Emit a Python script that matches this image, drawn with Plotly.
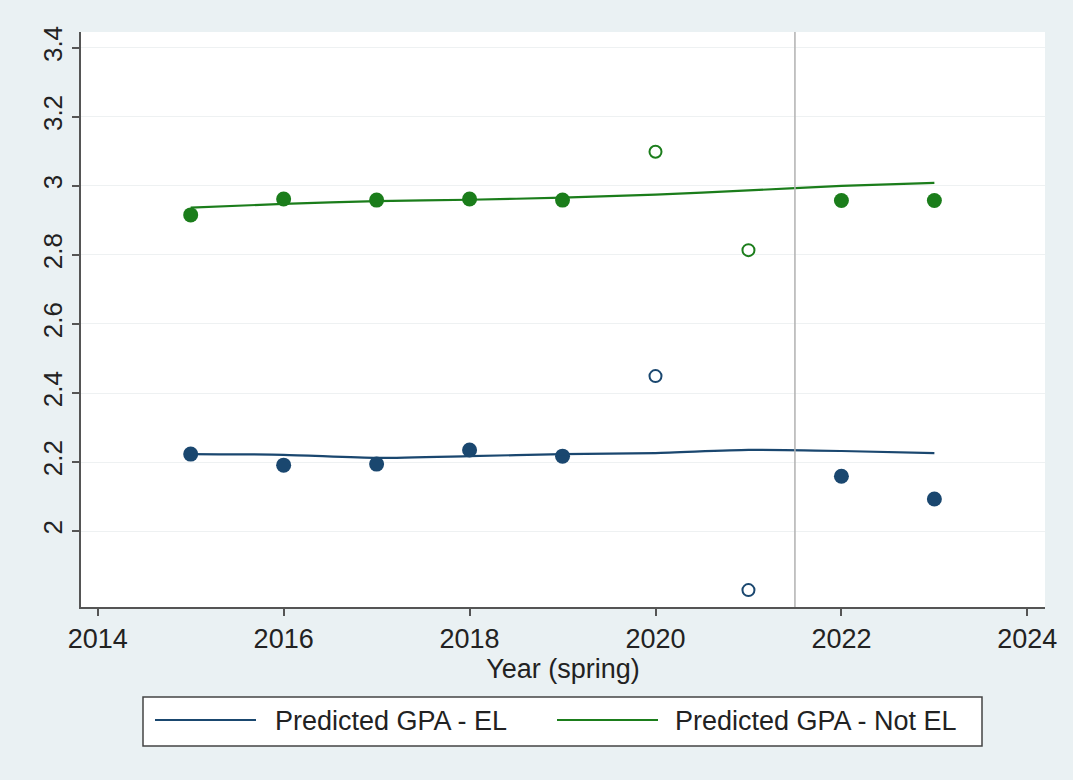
import plotly.graph_objects as go

# ---- data ----
years = [2015, 2016, 2017, 2018, 2019, 2020, 2021, 2022, 2023]
obs_el = [2.223, 2.191, 2.194, 2.235, 2.217, 2.449, 1.829, 2.159, 2.093]
obs_not_el = [2.916, 2.962, 2.959, 2.962, 2.959, 3.099, 2.814, 2.958, 2.958]
pred_el = [2.223, 2.221, 2.212, 2.217, 2.223, 2.226, 2.235, 2.232, 2.226]
pred_not_el = [2.937, 2.948, 2.956, 2.960, 2.966, 2.975, 2.987, 3.000, 3.009]
covid_years = [2020, 2021]
cutoff_year = 2021.5
x_ticks = [2014, 2016, 2018, 2020, 2022, 2024]
y_ticks = [2.0, 2.2, 2.4, 2.6, 2.8, 3.0, 3.2, 3.4]
y_tick_text = ["2", "2.2", "2.4", "2.6", "2.8", "3", "3.2", "3.4"]
legend_labels = ["Predicted GPA - EL", "Predicted GPA - Not EL"]

BLUE = "#1a476f"
GREEN = "#1b7d1b"
FONT = "Liberation Sans, Arial, sans-serif"

fig = go.Figure()

def split(vals):
    fx, fy, hx, hy = [], [], [], []
    for yr, v in zip(years, vals):
        if yr in covid_years:
            hx.append(yr); hy.append(v)
        else:
            fx.append(yr); fy.append(v)
    return fx, fy, hx, hy

for vals, pred, col in [(obs_el, pred_el, BLUE), (obs_not_el, pred_not_el, GREEN)]:
    fx, fy, hx, hy = split(vals)
    fig.add_trace(go.Scatter(x=fx, y=fy, mode="markers",
                             marker=dict(symbol="circle", size=15, color=col,
                                         line=dict(width=0)),
                             showlegend=False))
    fig.add_trace(go.Scatter(x=hx, y=hy, mode="markers",
                             marker=dict(symbol="circle-open", size=12, color=col,
                                         line=dict(width=2, color=col)),
                             showlegend=False))
    fig.add_trace(go.Scatter(x=years, y=pred, mode="lines",
                             line=dict(color=col, width=2.2, shape="spline", smoothing=0.6),
                             showlegend=False))

fig.add_vline(x=cutoff_year, line=dict(color="#b0b0b0", width=1.5))

# manual legend box (Stata style)
shapes = [
    dict(type="rect", xref="paper", yref="paper", x0=(143 - 81) / 964, x1=(982 - 81) / 964,
         y0=(607 - 746) / 575, y1=(607 - 697) / 575,
         fillcolor="white", line=dict(color="#444", width=1.5)),
    dict(type="line", xref="paper", yref="paper", x0=(155 - 81) / 964, x1=(256 - 81) / 964,
         y0=(607 - 720) / 575, y1=(607 - 720) / 575, line=dict(color=BLUE, width=2.2)),
    dict(type="line", xref="paper", yref="paper", x0=(557 - 81) / 964, x1=(658 - 81) / 964,
         y0=(607 - 720) / 575, y1=(607 - 720) / 575, line=dict(color=GREEN, width=2.2)),
]
for s in shapes:
    fig.add_shape(**s)
for lbl, xpx in zip(legend_labels, [273, 673]):
    fig.add_annotation(xref="paper", yref="paper", x=(xpx - 81) / 964, y=(607 - 721) / 575,
                       text=lbl, showarrow=False, xanchor="left", yanchor="middle",
                       font=dict(size=27, color="#222", family=FONT))

fig.update_layout(
    width=1073, height=780,
    margin=dict(l=81, r=28, t=32, b=173),
    paper_bgcolor="#eaf1f3", plot_bgcolor="white",
    font=dict(family=FONT, size=27, color="#222"),
    showlegend=False,
)
fig.update_xaxes(range=[2013.82, 2024.19], tickvals=x_ticks, showgrid=False, zeroline=False,
                 showline=True, linecolor="#555", linewidth=1.5,
                 ticks="outside", ticklen=7, tickcolor="#555", tickwidth=1.5,
                 tickfont=dict(size=27),
                 title=dict(text="Year (spring)", font=dict(size=27), standoff=0))
fig.update_yaxes(range=[1.78, 3.446], tickvals=y_ticks, ticktext=y_tick_text, tickangle=-90,
                 showgrid=True, gridcolor="#eef1f2", gridwidth=1, zeroline=False,
                 showline=True, linecolor="#555", linewidth=1.5,
                 ticks="outside", ticklen=7, tickcolor="#555", tickwidth=1.5,
                 tickfont=dict(size=26))

fig.write_html("out.html")
